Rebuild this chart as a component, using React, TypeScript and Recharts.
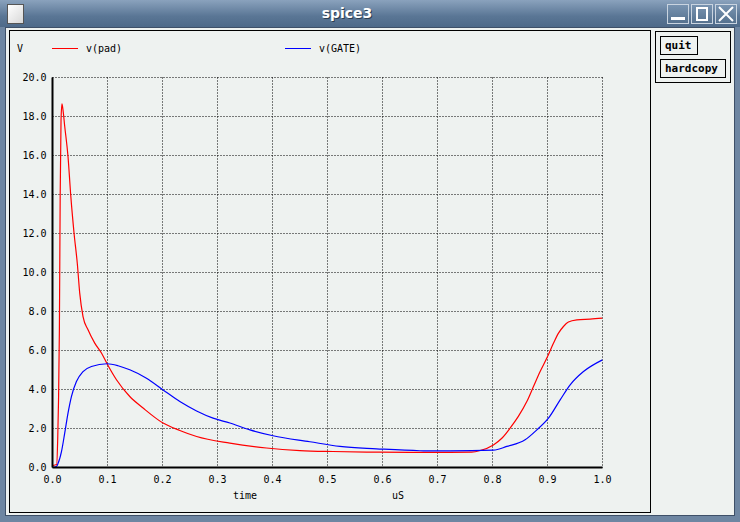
import { LineChart, Line, XAxis, YAxis, CartesianGrid } from "recharts";

// v(pad) samples, time in uS
const padTime = [
  0, 0.0076, 0.0095, 0.011, 0.0125, 0.014, 0.0155, 0.0172, 0.019, 0.0222,
  0.0282, 0.0331, 0.0391, 0.0453, 0.0495, 0.0555, 0.0646, 0.0768, 0.089, 0.0992,
  0.1163, 0.1405, 0.1647, 0.201, 0.2315, 0.262, 0.3225, 0.389, 0.45, 0.51,
  0.571, 0.65, 0.723, 0.762, 0.7775, 0.8016, 0.817, 0.832, 0.847, 0.8624,
  0.8745, 0.8866, 0.8988, 0.911, 0.92, 0.929, 0.938, 0.9534, 0.9776, 1.0,
];
const padVolts = [
  0.1, 0.15, 1.5, 3.5, 7.0, 14.0, 17.8, 18.65, 18.35, 17.5,
  15.95, 13.98, 12.04, 10.4, 8.94, 7.74, 7.06, 6.38, 5.87, 5.32,
  4.5, 3.64, 3.05, 2.28, 1.9, 1.59, 1.25, 1.0, 0.87, 0.82,
  0.79, 0.78, 0.78, 0.79, 0.87, 1.16, 1.5, 2.02, 2.62, 3.38,
  4.15, 4.92, 5.61, 6.38, 6.89, 7.23, 7.46, 7.57, 7.61, 7.66,
];

// v(GATE) samples
const gateTime = [
  0, 0.007, 0.01, 0.0162, 0.0222, 0.0282, 0.0344, 0.0435, 0.0555, 0.0708,
  0.0992, 0.1192, 0.1405, 0.1709, 0.201, 0.2315, 0.262, 0.292, 0.3225, 0.359,
  0.401, 0.468, 0.5226, 0.589, 0.668, 0.723, 0.8016, 0.826, 0.8593, 0.8806,
  0.9017, 0.923, 0.9412, 0.9654, 1.0,
];
const gateVolts = [
  0, 0.05, 0.2, 0.8, 1.76, 2.79, 3.64, 4.41, 4.92, 5.18,
  5.32, 5.22, 5.01, 4.58, 3.98, 3.38, 2.9, 2.53, 2.28, 1.93,
  1.63, 1.32, 1.08, 0.96, 0.86, 0.85, 0.89, 1.08, 1.42, 1.93,
  2.53, 3.47, 4.24, 4.92, 5.52,
];

const xTicks = [0, 0.1, 0.2, 0.3, 0.4, 0.5, 0.6, 0.7, 0.8, 0.9, 1.0];
const yTicks = [0, 2, 4, 6, 8, 10, 12, 14, 16, 18, 20];

const padData = padTime.map((t, i) => ({ t, v: padVolts[i] }));
const gateData = gateTime.map((t, i) => ({ t, v: gateVolts[i] }));

const mono = "'DejaVu Sans Mono', monospace";
const tickStyle = { fontFamily: mono, fontSize: 10, fill: "#000" };

const abs = (l: number, t: number, w: number, h: number) => ({
  position: "absolute" as const,
  left: l,
  top: t,
  width: w,
  height: h,
  boxSizing: "border-box" as const,
});

function TitleButton({ left, kind }: { left: number; kind: string }) {
  return (
    <div style={{ ...abs(left, 4, 22, 20), border: "1px solid #c9d4e0", background: "linear-gradient(#7893b0, #56728f)" }}>
      {kind === "min" && <div style={{ ...abs(3, 12, 14, 3), background: "#fff" }} />}
      {kind === "max" && <div style={{ ...abs(4, 2, 12, 14), border: "2px solid #fff" }} />}
      {kind === "close" && (
        <svg width={20} height={18} style={{ position: "absolute", left: 0, top: 0 }}>
          <path d="M3 2 L17 16 M17 2 L3 16" stroke="#fff" strokeWidth={2} />
        </svg>
      )}
    </div>
  );
}

function App() {
  return (
    <div style={{ position: "fixed", left: 0, top: 0, width: 740, height: 522, overflow: "hidden", background: "#6e86a2" }}>
      {/* title bar */}
      <div style={{ ...abs(0, 0, 740, 27), background: "linear-gradient(#8aa2bd, #5a7695 60%, #4e6a89)" }} />
      <div style={{ ...abs(7, 4, 17, 20), background: "linear-gradient(135deg, #ffffff, #d8d8d8)", border: "1px solid #555" }} />
      <div
        style={{
          ...abs(297, 3, 100, 20),
          textAlign: "center",
          color: "#fff",
          fontFamily: "'DejaVu Sans', sans-serif",
          fontWeight: "bold",
          fontSize: 14,
          lineHeight: "20px",
          textShadow: "1px 1px 0 #2c3e52",
        }}
      >
        spice3
      </div>
      <TitleButton left={667} kind="min" />
      <TitleButton left={691} kind="max" />
      <TitleButton left={715} kind="close" />

      {/* client area */}
      <div style={{ ...abs(5, 27, 730, 489), background: "#eef2f0", border: "1px solid #3e5068" }} />

      {/* plot panel */}
      <div style={{ ...abs(9, 30, 642, 483), border: "1px solid #000" }} />
      {/* button panel */}
      <div style={{ ...abs(655, 31, 76, 52), border: "1px solid #000" }} />
      <div
        style={{
          ...abs(660, 36, 38, 19),
          border: "1px solid #000",
          fontFamily: mono,
          fontWeight: "bold",
          fontSize: 11,
          lineHeight: "17px",
          paddingLeft: 4,
        }}
      >
        quit
      </div>
      <div
        style={{
          ...abs(660, 59, 66, 19),
          border: "1px solid #000",
          fontFamily: mono,
          fontWeight: "bold",
          fontSize: 11,
          lineHeight: "17px",
          paddingLeft: 4,
        }}
      >
        hardcopy
      </div>

      <div style={{ position: "absolute", left: 0, top: 0 }}>
        <LineChart width={740} height={522} margin={{ top: 77.5, right: 137.5, left: 0, bottom: 0 }}>
          <CartesianGrid stroke="#000" strokeDasharray="1 2" />
          <XAxis
            type="number"
            dataKey="t"
            domain={[0, 1]}
            ticks={xTicks}
            allowDataOverflow
            height={54.5}
            tickLine={false}
            tickSize={0}
            tickMargin={8}
            axisLine={{ stroke: "#000", strokeWidth: 2 }}
            tick={tickStyle}
            tickFormatter={(v: number) => v.toFixed(1)}
            interval={0}
          />
          <YAxis
            type="number"
            domain={[0, 20]}
            ticks={yTicks}
            allowDataOverflow
            width={52.5}
            tickLine={false}
            tickSize={0}
            tickMargin={6}
            axisLine={{ stroke: "#000", strokeWidth: 2 }}
            tick={tickStyle}
            tickFormatter={(v: number) => v.toFixed(1)}
            interval={0}
          />
          <Line data={padData} dataKey="v" type="monotone" stroke="#ff0000" strokeWidth={1.2} dot={false} isAnimationActive={false} />
          <Line data={gateData} dataKey="v" type="monotone" stroke="#0000ff" strokeWidth={1.2} dot={false} isAnimationActive={false} />
        </LineChart>
      </div>

      {/* legend and axis captions */}
      <svg width={740} height={522} style={{ position: "absolute", left: 0, top: 0, pointerEvents: "none" }}>
        <g fontFamily={mono} fontSize={10} fill="#000">
          <text x={17} y={52}>V</text>
          <line x1={52} y1={48.5} x2={78} y2={48.5} stroke="#ff0000" />
          <text x={86} y={52}>v(pad)</text>
          <line x1={285} y1={48.5} x2={311} y2={48.5} stroke="#0000ff" />
          <text x={319} y={52}>v(GATE)</text>
          <text x={233} y={499}>time</text>
          <text x={392} y={499}>uS</text>
        </g>
      </svg>
    </div>
  );
}

export default App;
